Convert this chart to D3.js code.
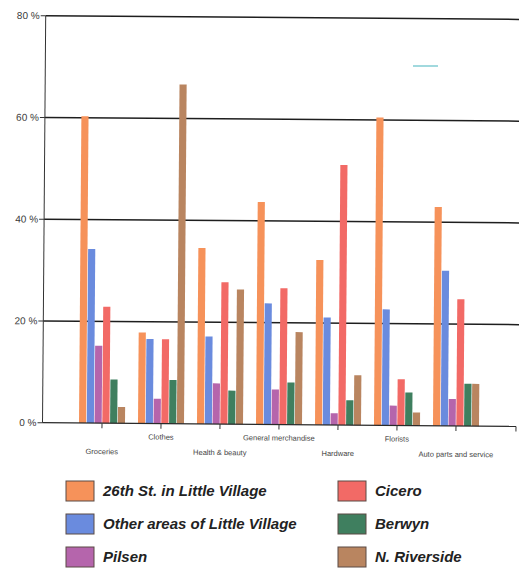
<!DOCTYPE html>
<html>
<head>
<meta charset="utf-8">
<script src="https://cdn.jsdelivr.net/npm/d3@7"></script>
<style>
  html, body { margin: 0; padding: 0; background: #fff; }
  svg { display: block; }
</style>
</head>
<body>
<svg id="chart" width="519" height="571"></svg>
<script>
// Shopping destinations by category (percent of respondents)
const categories = ["Groceries", "Clothes", "Health & beauty", "General merchandise",
                    "Hardware", "Florists", "Auto parts and service"];
const series = ["26th St. in Little Village", "Other areas of Little Village", "Pilsen",
                "Cicero", "Berwyn", "N. Riverside"];
const seriesColors = ["#f6925a", "#6a8bde", "#b565ac", "#f26a66", "#3f7f5f", "#b98560"];

const littleVillage26th = [60.3, 17.9, 34.6, 43.7, 32.4, 60.5, 43.0];
const otherLittleVillage = [34.2, 16.6, 17.2, 23.8, 21.1, 22.8, 30.5];
const pilsen            = [15.2, 4.9, 8.0, 6.9, 2.3, 3.9, 5.3];
const cicero            = [22.9, 16.6, 27.9, 26.8, 51.1, 9.1, 24.9];
const berwyn            = [8.6, 8.6, 6.6, 8.3, 4.9, 6.5, 8.3];
const nRiverside        = [3.2, 66.7, 26.5, 18.2, 9.8, 2.6, 8.3];
const seriesValues = [littleVillage26th, otherLittleVillage, pilsen, cicero, berwyn, nRiverside];

const yTicks = [0, 20, 40, 60, 80];
const yTickLabels = ["0 %", "20 %", "40 %", "60 %", "80 %"];

const svg = d3.select("#chart");
svg.append("rect").attr("width", 519).attr("height", 571).attr("fill", "#fff");

const axisX = 42.5, baseY = 422.7;
const y = d3.scaleLinear().domain([0, 80]).range([baseY, 15.7]);
const x0 = d3.scaleBand().domain(categories).range([72.5, 485.5])
  .paddingInner(0.22).paddingOuter(0.11);
const x1 = d3.scaleBand().domain(series).range([0, x0.bandwidth()]).paddingInner(0.08);
const color = d3.scaleOrdinal().domain(series).range(seriesColors);

// Plot area, slightly turned as on the printed page
const plot = svg.append("g").attr("transform", `rotate(0.45, ${axisX}, ${baseY})`);

// Horizontal gridlines with left ticks
const grid = plot.append("g");
grid.selectAll("line.grid").data(yTicks.filter(d => d > 0)).join("line")
  .attr("x1", axisX).attr("x2", 540)
  .attr("y1", d => y(d)).attr("y2", d => y(d))
  .attr("stroke", "#1e1e1e").attr("stroke-width", 1.5);
grid.selectAll("line.tick").data(yTicks).join("line")
  .attr("x1", axisX - 5).attr("x2", axisX)
  .attr("y1", d => y(d)).attr("y2", d => y(d))
  .attr("stroke", "#333").attr("stroke-width", 1);
grid.selectAll("text").data(yTicks).join("text")
  .attr("x", axisX - 6).attr("y", d => y(d) + 3.5)
  .attr("text-anchor", "end")
  .attr("font-family", "'Liberation Sans Narrow', 'Liberation Sans', Arial, sans-serif")
  .attr("font-size", 10).attr("fill", "#3a3a3a")
  .text((d, i) => yTickLabels[i]);

// Bars
const groups = plot.append("g").selectAll("g").data(categories).join("g")
  .attr("transform", d => `translate(${x0(d)},0)`);
groups.selectAll("rect")
  .data((c, ci) => series.map((s, si) => ({ s, v: seriesValues[si][ci] })))
  .join("rect")
  .attr("x", d => x1(d.s))
  .attr("width", x1.bandwidth())
  .attr("y", d => y(d.v))
  .attr("height", d => baseY - y(d.v))
  .attr("fill", d => color(d.s));

// Vertical axis
plot.append("line")
  .attr("x1", axisX).attr("x2", axisX).attr("y1", y(80)).attr("y2", baseY)
  .attr("stroke", "#333").attr("stroke-width", 1);

// Category axis along the baseline
const xAxisG = plot.append("g");
xAxisG.append("line")
  .attr("x1", axisX).attr("x2", 516).attr("y1", baseY).attr("y2", baseY)
  .attr("stroke", "#2a2a2a").attr("stroke-width", 1.3);
const tickXs = categories.map(c => x0(c) + x0.bandwidth() / 2).concat([516]);
xAxisG.selectAll("line.xt").data(tickXs).join("line")
  .attr("x1", d => d).attr("x2", d => d)
  .attr("y1", baseY).attr("y2", baseY + 5)
  .attr("stroke", "#333").attr("stroke-width", 1);
xAxisG.selectAll("text").data(categories).join("text")
  .attr("x", c => x0(c) + x0.bandwidth() / 2)
  .attr("y", (c, i) => i % 2 === 0 ? baseY + 31 : baseY + 16)
  .attr("text-anchor", "middle")
  .attr("font-family", "'Liberation Sans', Arial, sans-serif")
  .attr("font-size", 7.5).attr("fill", "#444")
  .text(c => c);

// Small teal stroke in the upper right
svg.append("line")
  .attr("x1", 413).attr("x2", 438).attr("y1", 66).attr("y2", 66)
  .attr("stroke", "#82cdd3").attr("stroke-width", 1.5);

// Legend
const legendCols = [66, 338];
const legendRows = [481, 514, 547];
const legendOrder = [[0, 3], [1, 4], [2, 5]];
const legend = svg.append("g");
legendOrder.forEach((pair, r) => {
  pair.forEach((si, c) => {
    const gx = legendCols[c], gy = legendRows[r];
    legend.append("rect")
      .attr("x", gx).attr("y", gy).attr("width", 28).attr("height", 20)
      .attr("fill", seriesColors[si]).attr("stroke", "#5a4a44").attr("stroke-width", 1);
    legend.append("text")
      .attr("x", gx + 37).attr("y", gy + 15)
      .attr("font-family", "'Liberation Sans Narrow', 'Liberation Sans', Arial, sans-serif")
      .attr("font-style", "italic").attr("font-weight", "bold")
      .attr("font-size", 15).attr("fill", "#222")
      .text(series[si]);
  });
});
</script>
</body>
</html>
